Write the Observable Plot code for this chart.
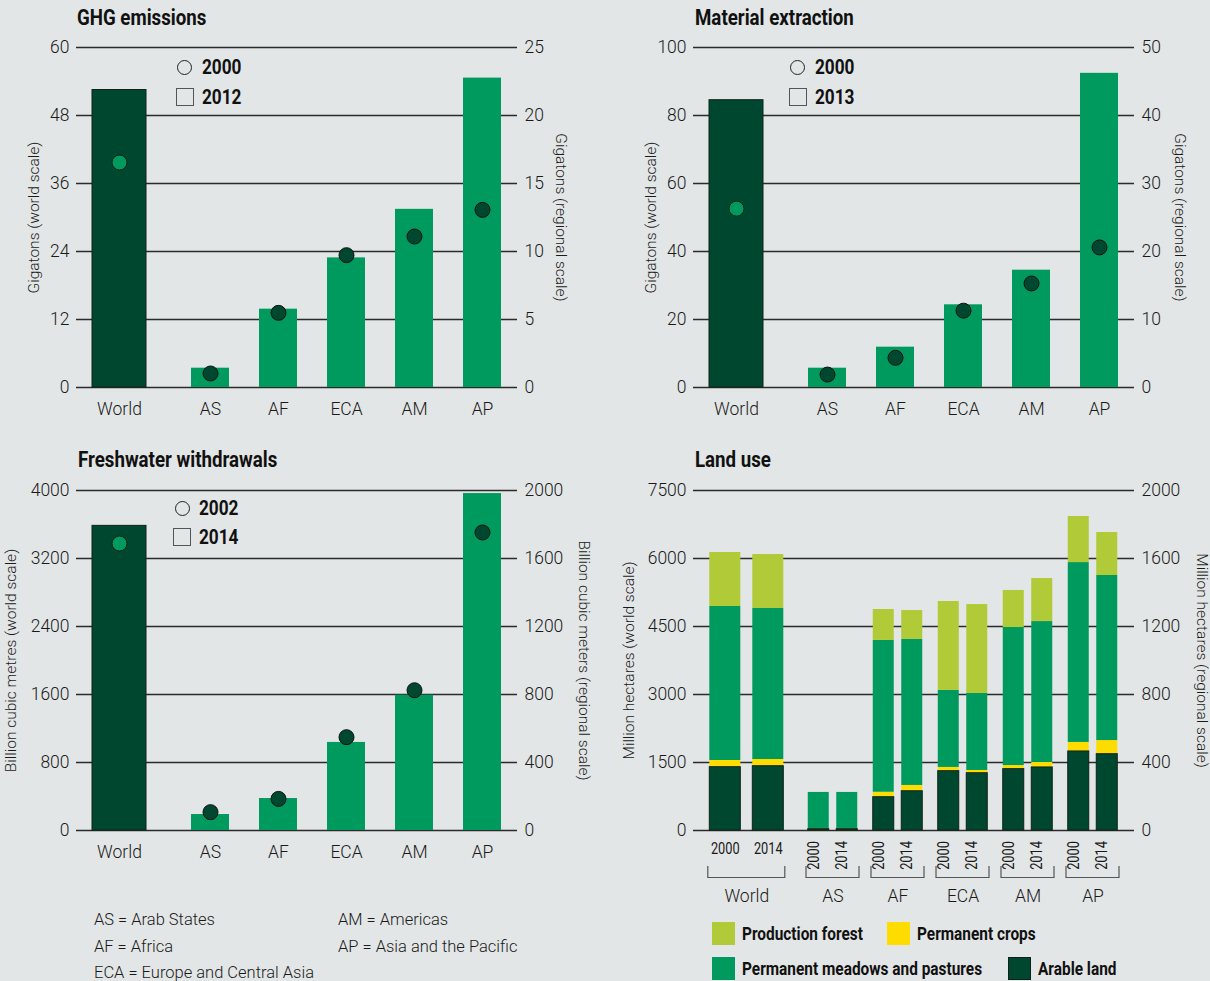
<!DOCTYPE html>
<html><head><meta charset="utf-8">
<script src="https://cdn.jsdelivr.net/npm/d3@7"></script>
<script src="https://cdn.jsdelivr.net/npm/@observablehq/plot@0.6"></script>
<style>
html,body{margin:0;padding:0;background:#e3e6e6;}
#root{position:relative;width:1210px;height:981px;background:#e3e6e6;overflow:hidden;font-family:Roboto,"Liberation Sans",sans-serif;color:#222;}
.abs{position:absolute;white-space:nowrap;}
.title{font-family:Roboto,"Liberation Sans",sans-serif;font-weight:bold;font-size:22px;line-height:22px;color:#111;transform:scaleX(0.85);transform-origin:0 50%;}
.leg{font-family:Roboto,"Liberation Sans",sans-serif;font-weight:bold;font-size:20px;line-height:20px;color:#111;transform:scaleX(0.86);transform-origin:0 50%;}
.leg2{font-family:Roboto,"Liberation Sans",sans-serif;font-weight:bold;font-size:17.5px;line-height:20px;color:#111;transform:scaleX(0.88);transform-origin:0 50%;}
.note{font-size:16.5px;line-height:20px;font-weight:300;color:#1a1a1a;}
.circ{width:15px;height:15px;border:1.3px solid #222;border-radius:50%;box-sizing:border-box;}
.sq{width:18px;height:18px;border:1.5px solid #555;box-sizing:border-box;}
.sw{width:23px;height:23px;box-sizing:border-box;}
</style></head><body><div id="root"></div>
<script>
// ---------- data ----------
const regions = ["World", "AS", "AF", "ECA", "AM", "AP"];
const regionNames = ["AS = Arab States", "AF = Africa", "ECA = Europe and Central Asia", "AM = Americas", "AP = Asia and the Pacific"];

const ghg2012 = [52.5, 1.42, 5.76, 9.53, 13.1, 22.75];
const ghg2000 = [39.7, 1.03, 5.49, 9.73, 11.1, 13.06];
const ghgWorldTicks = [0, 12, 24, 36, 48, 60];
const ghgRegTicks = [0, 5, 10, 15, 20, 25];

const mat2013 = [84.5, 2.84, 5.93, 12.16, 17.25, 46.2];
const mat2000 = [52.6, 1.9, 4.36, 11.3, 15.3, 20.6];
const matWorldTicks = [0, 20, 40, 60, 80, 100];
const matRegTicks = [0, 10, 20, 30, 40, 50];

const water2014 = [3584, 94, 188, 518, 796, 1982];
const water2002 = [3376, 108, 186, 549, 825, 1753];
const waterWorldTicks = [0, 800, 1600, 2400, 3200, 4000];
const waterRegTicks = [0, 400, 800, 1200, 1600, 2000];

const landYears = ["2000", "2014"];
const landCategories = ["Arable land", "Permanent crops", "Permanent meadows and pastures", "Production forest"];
const arable2000  = [1397, 8, 196, 349, 361, 465];
const arable2014  = [1419, 8, 231, 337, 371, 449];
const crops2000   = [147, 4, 29, 22, 21, 53];
const crops2014   = [147, 4, 34, 16, 29, 80];
const meadows2000 = [3397, 212, 893, 453, 812, 1058];
const meadows2014 = [3331, 212, 859, 453, 829, 971];
const forest2000  = [1191, 0, 182, 523, 218, 271];
const forest2014  = [1191, 0, 170, 523, 253, 253];
const landWorldTicks = [0, 1500, 3000, 4500, 6000, 7500];
const landRegTicks = [0, 400, 800, 1200, 1600, 2000];

// ---------- style ----------
const DARK = "#00472f", MID = "#009a5e", LIGHT = "#b0ca38", YELLOW = "#ffdc00", INK = "#1a1a1a", EDGE = "#0f2219";
const SANS = "Roboto, 'Liberation Sans', sans-serif";
const root = document.getElementById("root");

function place(el, left, top) {
  el.style.position = "absolute"; el.style.left = left + "px"; el.style.top = top + "px";
  root.appendChild(el); return el;
}
function div(cls, text, left, top) {
  const d = document.createElement("div"); d.className = "abs " + cls; if (text) d.textContent = text;
  return place(d, left, top);
}

function axesMarks(worldTicks, regTicks, ratio, leftLabel, rightLabel, ldx, rdx) {
  return [
    Plot.gridY(worldTicks, {stroke: "#2b2b2b", strokeOpacity: 1, strokeWidth: 1.3}),
    Plot.axisY(worldTicks, {anchor: "left", tickSize: 0, tickPadding: 7, fontSize: 17.5, fontWeight: 300, color: INK, label: null,
      tickFormat: d => String(d)}),
    Plot.axisY(regTicks.map(t => t * ratio), {anchor: "right", tickSize: 0, tickPadding: 7, fontSize: 17.5, fontWeight: 300, color: INK, label: null,
      tickFormat: d => String(Math.round(d / ratio))}),
    Plot.text([leftLabel], {frameAnchor: "left", textAnchor: "middle", text: d => d, rotate: -90, dx: ldx, fontSize: 15.5, fontWeight: 300, fill: INK}),
    Plot.text([rightLabel], {frameAnchor: "right", textAnchor: "middle", text: d => d, rotate: 90, dx: rdx, fontSize: 15.5, fontWeight: 300, fill: INK})
  ];
}

function dualPanel(cfg) {
  const ratio = cfg.worldMax / cfg.regMax;
  const rows = regions.map((r, i) => ({region: r, cur: cfg.cur[i], prev: cfg.prev[i]}));
  const world = rows.slice(0, 1), reg = rows.slice(1);
  const WDX = -23;
  const plot = Plot.plot({
    width: 605, height: 430, marginTop: 47, marginBottom: 43, marginLeft: 76, marginRight: 88,
    style: {background: "transparent", fontFamily: SANS, overflow: "visible"},
    x: {type: "band", domain: regions, range: [108, 516], paddingInner: 0.441, paddingOuter: 0.2205, axis: null},
    y: {domain: [0, cfg.worldMax], axis: null},
    marks: [
      ...axesMarks(cfg.worldTicks, cfg.regTicks, ratio, cfg.leftLabel, cfg.rightLabel, cfg.ldx, cfg.rdx),
      Plot.barY(reg, {x: "region", y: d => d.cur * ratio, fill: MID}),
      Plot.barY(world, {x: "region", y: "cur", fill: DARK, stroke: EDGE, strokeWidth: 1, dx: WDX, insetLeft: -8, insetRight: -8}),
      Plot.dot(reg, {x: "region", y: d => d.prev * ratio, r: 7.5, fill: DARK, stroke: "#111", strokeWidth: 1}),
      Plot.dot(world, {x: "region", y: "prev", r: 7.5, fill: MID, stroke: EDGE, strokeWidth: 1, dx: WDX}),
      Plot.text(reg, {x: "region", text: "region", frameAnchor: "bottom", dy: 27, fontSize: 17.5, fontWeight: 300, fill: INK}),
      Plot.text(world, {x: "region", text: "region", frameAnchor: "bottom", dy: 27, dx: WDX, fontSize: 17.5, fontWeight: 300, fill: INK})
    ]
  });
  place(plot, cfg.left, cfg.top);
}

dualPanel({left: 0, top: 0, worldMax: 60, regMax: 25, worldTicks: ghgWorldTicks, regTicks: ghgRegTicks,
  cur: ghg2012, prev: ghg2000, leftLabel: "Gigatons (world scale)", rightLabel: "Gigatons (regional scale)", ldx: -42, rdx: 43});
dualPanel({left: 617, top: 0, worldMax: 100, regMax: 50, worldTicks: matWorldTicks, regTicks: matRegTicks,
  cur: mat2013, prev: mat2000, leftLabel: "Gigatons (world scale)", rightLabel: "Gigatons (regional scale)", ldx: -42, rdx: 45});
dualPanel({left: 0, top: 443, worldMax: 4000, regMax: 2000, worldTicks: waterWorldTicks, regTicks: waterRegTicks,
  cur: water2014, prev: water2002, leftLabel: "Billion cubic metres (world scale)", rightLabel: "Billion cubic meters (regional scale)", ldx: -65, rdx: 66});

// ---------- land use ----------
(function landPanel() {
  const worldMax = 7500, regMax = 2000, ratio = worldMax / regMax;
  const series = [[arable2000, arable2014], [crops2000, crops2014], [meadows2000, meadows2014], [forest2000, forest2014]];
  const rows = [];
  regions.forEach((r, i) => landYears.forEach((yr, j) => landCategories.forEach((c, k) => {
    const v = series[k][j][i];
    rows.push({region: r, year: yr, cat: c, world: i === 0, value: i === 0 ? v : v * ratio});
  })));
  const WG = -21.2; // world group shift
  const combos = [
    {world: true, year: "2000", dx: -42.7, inset: -5},
    {world: true, year: "2014", dx: 0.3, inset: -5},
    {world: false, year: "2000", dx: -14.25, inset: 0},
    {world: false, year: "2014", dx: 14.25, inset: 0}
  ];
  const barMarks = combos.flatMap(c => {
    const data = rows.filter(d => d.world === c.world && d.year === c.year);
    return [
      Plot.barY(data, {x: "region", y: "value", fill: "cat", order: landCategories, dx: c.dx, insetLeft: c.inset, insetRight: c.inset}),
      Plot.barY(data.filter(d => d.cat === "Arable land"), {x: "region", y: "value", fill: "none", stroke: EDGE, strokeWidth: 1, dx: c.dx, insetLeft: c.inset, insetRight: c.inset})
    ];
  });
  const regOnly = regions.slice(1);
  const yearLabelMarks = combos.map(c => {
    const data = (c.world ? regions.slice(0, 1) : regOnly).map(r => ({region: r, year: c.year}));
    return Plot.text(data, {x: "region", text: "year", frameAnchor: "bottom", dx: c.dx, dy: c.world ? 23 : 25,
      rotate: c.world ? 0 : -90, fontSize: 16, fill: INK});
  });
  const plot = Plot.plot({
    width: 605, height: 470, marginTop: 47, marginBottom: 83, marginLeft: 76, marginRight: 88,
    style: {background: "transparent", fontFamily: SANS, overflow: "visible"},
    x: {type: "band", domain: regions, range: [117.6, 509.1], paddingInner: 0.678, paddingOuter: 0.339, axis: null},
    y: {domain: [0, worldMax], axis: null},
    color: {domain: landCategories, range: [DARK, YELLOW, MID, LIGHT]},
    marks: [
      ...axesMarks(landWorldTicks, landRegTicks, ratio, "Million hectares (world scale)", "Million hectares (regional scale)", -64, 67),
      ...barMarks,
      ...yearLabelMarks,
      Plot.text(regOnly, {x: d => d, text: d => d, frameAnchor: "bottom", dy: 71, fontSize: 17.5, fontWeight: 300, fill: INK}),
      Plot.text(["World"], {x: d => d, text: d => d, frameAnchor: "bottom", dy: 71, dx: WG, fontSize: 17.5, fontWeight: 300, fill: INK})
    ]
  });
  // condense the year labels (narrow type in the original)
  d3.select(plot).selectAll('g[aria-label="text"] text')
    .filter(function () { return landYears.includes(this.textContent); })
    .each(function () {
      const t = d3.select(this);
      let tr = t.attr("transform");
      if (!tr) {
        tr = `translate(${+t.attr("x") || 0},${+t.attr("y") || 0})`;
        t.attr("x", null).attr("y", null);
      }
      t.attr("transform", tr + " scale(0.8,1)");
    });
  // group brackets positioned from the plot's own scales
  const xs = plot.scale("x"), ys = plot.scale("y");
  const y0 = ys.apply(0);
  const g = d3.select(plot).append("g").attr("fill", "none").attr("stroke", "#555").attr("stroke-width", 1.2);
  regions.forEach((r, i) => {
    const c = xs.apply(r) + xs.bandwidth / 2 + (i === 0 ? WG : 0);
    const hw = i === 0 ? 38.5 : 26.5;
    g.append("path").attr("d", `M${c - hw},${y0 + 36}V${y0 + 47.5}H${c + hw}V${y0 + 36}`);
  });
  place(plot, 617, 443);
})();

// ---------- titles ----------
div("title", "GHG emissions", 77, 6.5);
div("title", "Material extraction", 695, 6.5);
div("title", "Freshwater withdrawals", 78, 448.5);
div("title", "Land use", 695, 448.5);

// ---------- year legends ----------
function yearLegend(cx, cy1, cy2, y1, y2, tx) {
  div("circ", "", cx - 7.5, cy1 - 7.5);
  div("sq", "", cx - 9, cy2 - 9);
  div("leg", y1, tx, cy1 - 10);
  div("leg", y2, tx, cy2 - 10);
}
yearLegend(184.5, 67, 96.5, "2000", "2012", 202);
yearLegend(797.5, 67, 96.5, "2000", "2013", 815);
yearLegend(182, 508, 537, "2002", "2014", 199);

// ---------- land-use legend ----------
const legendItems = [
  {label: "Production forest", color: LIGHT, x: 712, y: 922},
  {label: "Permanent crops", color: YELLOW, x: 887, y: 922},
  {label: "Permanent meadows and pastures", color: MID, x: 712, y: 957},
  {label: "Arable land", color: DARK, x: 1008, y: 957, edge: true}
];
legendItems.forEach(it => {
  const s = div("sw", "", it.x, it.y); s.style.background = it.color;
  if (it.edge) s.style.border = "1.3px solid " + EDGE;
  div("leg2", it.label, it.x + 30, it.y + 1.5);
});

// ---------- region key ----------
div("note", regionNames[0], 94, 910);
div("note", regionNames[1], 94, 937);
div("note", regionNames[2], 94, 963);
div("note", regionNames[3], 338, 910);
div("note", regionNames[4], 338, 937);
</script></body></html>
